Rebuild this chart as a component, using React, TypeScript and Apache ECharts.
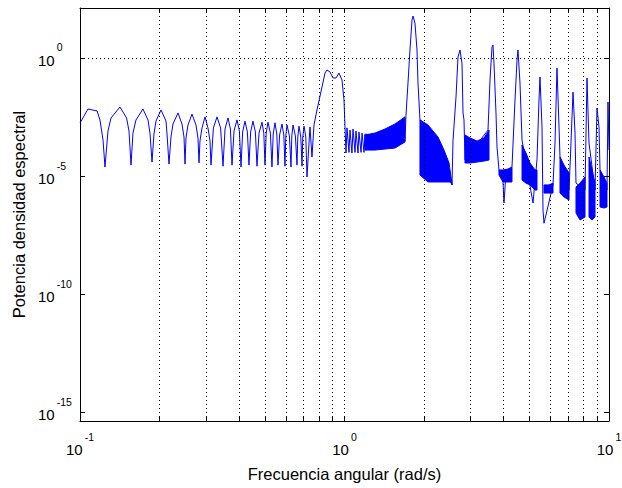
import React, { useEffect, useRef } from "react";
import * as echarts from "echarts";

const FONT = '"Liberation Sans", Arial, Helvetica, sans-serif';

// Main trace, [angular frequency (rad/s), spectral power density]
const lobeSegment: [number, number][] = [
  [0.1, 0.00176], [0.1072, 0.0069], [0.116, 0.0057], [0.119, 0.00236], [0.1222, 3.35e-4],
  [0.1243, 2.4e-5], [0.1276, 8.07e-4], [0.131, 0.00287], [0.1416, 0.0084], [0.15, 0.00287], [0.1532, 8.07e-4],
  [0.1559, 2.9e-5], [0.1586, 6.6e-4], [0.1628, 0.00236], [0.173, 0.0069], [0.1808, 0.00236], [0.1839, 6.6e-4],
  [0.1872, 3.9e-5], [0.1904, 6.0e-4], [0.1938, 0.00214], [0.2024, 0.0063], [0.2114, 0.00214], [0.2133, 6.0e-4],
  [0.217, 3.2e-5], [0.2208, 4.5e-4], [0.2247, 0.0016], [0.2347, 0.0047], [0.243, 0.0016], [0.2473, 4.5e-4],
  [0.2495, 3.2e-5], [0.2516, 4.07e-4], [0.256, 0.00145], [0.2651, 0.0042], [0.2745, 0.00145], [0.2793, 4.07e-4],
  [0.2818, 3.6e-5], [0.2842, 3.04e-4], [0.2892, 0.00108], [0.297, 0.0032], [0.3047, 0.00108], [0.3101, 3.04e-4],
  [0.3128, 2.9e-5], [0.3194, 0.00108], [0.3296, 0.0032], [0.3401, 0.00108],
  [0.3473, 2.6e-5], [0.3534, 9.8e-4], [0.3627, 0.0029], [0.3704, 9.8e-4],
  [0.3756, 2.9e-5], [0.3822, 8.1e-4], [0.3923, 0.0024], [0.4005, 8.1e-4],
  [0.4062, 2.4e-5], [0.4119, 7.3e-4], [0.4205, 0.0021], [0.4294, 7.3e-4],
  [0.4354, 2.9e-5], [0.4416, 7.3e-4], [0.4508, 0.0021], [0.4604, 7.3e-4],
  [0.4668, 2.6e-5], [0.4751, 6.6e-4], [0.4876, 0.0019], [0.4954, 6.6e-4],
  [0.5005, 2.9e-5], [0.5058, 6.6e-4], [0.5137, 0.0019], [0.5246, 6.6e-4],
  [0.5319, 2.4e-5], [0.5376, 6.0e-4], [0.546, 0.0018], [0.5547, 6.0e-4],
  [0.5605, 2.9e-5], [0.5684, 5.5e-4], [0.5803, 0.0016], [0.5896, 5.5e-4],
  [0.5957, 2.6e-5], [0.5999, 5.0e-4], [0.6062, 0.00145], [0.619, 5.0e-4],
  [0.6277, 2.4e-5], [0.6321, 5.0e-4], [0.6388, 0.00145], [0.6522, 5.0e-4],
  [0.6614, 2.9e-5], [0.666, 4.5e-4], [0.673, 0.0013], [0.6836, 4.5e-4],
  [0.6908, 2.6e-5], [0.6956, 4.5e-4], [0.703, 0.0013], [0.714, 4.5e-4],
  [0.7214, 9.1e-6],
];
const humpSegment: [number, number][] = [
  [0.7404, 0.0012], [0.7534, 6.4e-5], [0.7668, 0.00145], [0.787, 0.0063], [0.8221, 0.059],
  [0.8439, 0.23], [0.8587, 0.31], [0.8814, 0.255], [0.9047, 0.142], [0.9287, 0.142],
  [0.9532, 0.23], [0.9784, 0.117], [0.9957, 0.0166], [1.0044, 0.0012],
  [1.013, 9.4e-5], [1.022, 0.0011], [1.04, 1.0e-4], [1.049, 8.9e-4], [1.067, 9.4e-5],
  [1.077, 9.8e-4], [1.096, 1.0e-4], [1.105, 8.1e-4], [1.125, 9.4e-5], [1.134, 7.3e-4],
  [1.155, 1.0e-4], [1.165, 6.6e-4], [1.185, 1.0e-4], [1.195, 6.0e-4], [1.693, 3.0e-4],
];
const mainPeakSegment: [number, number][] = [
  [1.708, 0.0038], [1.738, 0.087], [1.768, 2.18], [1.8, 40.7], [1.816, 60], [1.847, 30],
  [1.88, 2.18], [1.896, 0.087], [1.929, 0.0024],
];
const upperPeaksSegment: [number, number][] = [
  [2.549, 4.2e-6], [2.572, 3.3e-4], [2.64, 0.022], [2.686, 1.1], [2.733, 2.18], [2.781, 0.61],
  [2.806, 0.0047], [2.83, 0.0024], [2.855, 4.8e-5],
  [3.488, 8.9e-4], [3.549, 0.117], [3.612, 2.92], [3.642, 3.56], [3.674, 0.61], [3.739, 0.0047],
  [3.772, 1.7e-4], [3.838, 1.8e-5], [3.974, 5.6e-6], [4.009, 7.2e-7], [4.08, 1.48e-5], [4.298, 2.4e-5],
  [4.412, 0.0166], [4.49, 0.82], [4.529, 2.18], [4.608, 0.087], [4.69, 3.3e-4],
  [5.161, 7.2e-7], [5.343, 4.8e-5], [5.437, 0.0166], [5.484, 0.157], [5.581, 0.0012], [5.63, 3.6e-7],
  [5.679, 1.0e-7],
  [6.142, 4.2e-6], [6.25, 2.5e-4], [6.359, 0.377], [6.472, 0.0012], [6.527, 6.4e-5],
  [7.061, 2.55e-6], [7.183, 2.5e-4], [7.31, 0.036], [7.439, 6.6e-4], [7.503, 5.0e-6],
  [8.115, 2.55e-6], [8.257, 0.142], [8.403, 2.5e-4],
  [8.853, 2.55e-6], [9.008, 0.0076], [9.167, 0.0012], [9.248, 1.8e-5],
  [9.827, 2.55e-6], [9.913, 0.0137], [10, 1.26e-4],
];

// Dense oscillation regions (envelopes: lower / upper)
const bandAFreq = [1.195, 1.304, 1.422, 1.552, 1.693];
const bandALow = [1.26e-4, 1.26e-4, 1.39e-4, 1.53e-4, 2.76e-4];
const bandAHigh = [5.5e-4, 6.6e-4, 9.8e-4, 0.0016, 0.0032];

const bandBFreq = [1.929, 2.069, 2.257, 2.378, 2.484, 2.527, 2.549];
const bandBLow = [1.1e-5, 5.6e-6, 5.6e-6, 5.6e-6, 5.6e-6, 5.6e-6, 4.2e-6];
const bandBHigh = [0.0024, 0.00145, 4.5e-4, 1.26e-4, 3.56e-5, 9.1e-6, 5.6e-6];

const bandCFreq = [2.855, 2.982, 3.17, 3.369, 3.518];
const bandCLow = [3.56e-5, 3.56e-5, 3.9e-5, 4.32e-5, 4.76e-5];
const bandCHigh = [5.5e-4, 4.1e-4, 3.04e-4, 4.1e-4, 8.9e-4];

const bandDFreq = [3.838, 3.974, 4.151, 4.298];
const bandDLow = [1.1e-5, 5.6e-6, 5.6e-6, 5.6e-6];
const bandDHigh = [1.8e-5, 1.8e-5, 1.98e-5, 2.4e-5];

const bandEFreq = [4.69, 4.855, 5.027, 5.251, 5.343];
const bandELow = [6.8e-6, 5.0e-6, 4.2e-6, 2.55e-6, 2.55e-6];
const bandEHigh = [2.06e-4, 9.4e-5, 3.56e-5, 1.8e-5, 1.8e-5];

const bandFFreq = [5.679, 5.932, 6.142];
const bandFLow = [1.9e-6, 1.9e-6, 1.9e-6];
const bandFHigh = [4.2e-6, 4.2e-6, 5.0e-6];

const bandGFreq = [6.527, 6.76, 7.061];
const bandGLow = [1.9e-6, 1.29e-6, 9.6e-7];
const bandGHigh = [6.4e-5, 2.9e-5, 1.34e-5];

const bandHFreq = [7.503, 7.77, 8.115];
const bandHLow = [2.7e-7, 1.37e-7, 1.83e-7];
const bandHHigh = [3.4e-6, 5.0e-6, 9.1e-6];

const bandIFreq = [8.403, 8.624, 8.853];
const bandILow = [1.83e-7, 1.37e-7, 1.83e-7];
const bandIHigh = [6.4e-5, 1.8e-5, 5.0e-6];

const bandJFreq = [9.248, 9.574, 9.827];
const bandJLow = [4.9e-7, 4.4e-7, 4.9e-7];
const bandJHigh = [1.8e-5, 9.1e-6, 5.0e-6];

// Axes
const xMin = 0.1;
const xMax = 10;
const yMin = 4.2e-16;
const yMax = 131;
const xMajorTicks = [0.1, 1, 10];
const xAllTicks = [0.1, 0.2, 0.3, 0.4, 0.5, 0.6, 0.7, 0.8, 0.9, 1, 2, 3, 4, 5, 6, 7, 8, 9, 10];
const xGridValues = [0.2, 0.3, 0.4, 0.5, 0.6, 0.7, 0.8, 0.9, 1, 2, 3, 4, 5, 6, 7, 8, 9];
const yMajorTicks = [1e-15, 1e-10, 1e-5, 1];

const bands = [
  { freq: bandAFreq, low: bandALow, high: bandAHigh },
  { freq: bandBFreq, low: bandBLow, high: bandBHigh },
  { freq: bandCFreq, low: bandCLow, high: bandCHigh },
  { freq: bandDFreq, low: bandDLow, high: bandDHigh },
  { freq: bandEFreq, low: bandELow, high: bandEHigh },
  { freq: bandFFreq, low: bandFLow, high: bandFHigh },
  { freq: bandGFreq, low: bandGLow, high: bandGHigh },
  { freq: bandHFreq, low: bandHLow, high: bandHHigh },
  { freq: bandIFreq, low: bandILow, high: bandIHigh },
  { freq: bandJFreq, low: bandJLow, high: bandJHigh },
];

const BLUE = "#0000ff";

const powLabel = (v: number) => {
  const e = Math.round(Math.log10(v));
  return `{b|10}{s|${e}}`;
};

const rich = {
  b: { fontFamily: FONT, fontSize: 15, lineHeight: 16, color: "#000", padding: [11, 0, 0, 0] },
  s: { fontFamily: FONT, fontSize: 10.5, lineHeight: 12, color: "#000", padding: [0, 0, 15, 2] },
};

const axisLineStyle = { show: true, onZero: false, lineStyle: { color: "#000", width: 1 } };

export default function App() {
  const ref = useRef<HTMLDivElement>(null);
  useEffect(() => {
    if (!ref.current) return;
    const chart = echarts.init(ref.current, null, { renderer: "svg" });
    const lineData = [...lobeSegment, ...humpSegment, ...mainPeakSegment, ...upperPeaksSegment];
    const option: any = {
      animation: false,
      backgroundColor: "#fff",
      grid: { left: 80, top: 8, right: 13, bottom: 67, outerBoundsMode: "none", containLabel: false },
      xAxis: [
        {
          type: "log",
          logBase: 10,
          min: xMin,
          max: xMax,
          position: "bottom",
          name: "Frecuencia angular (rad/s)",
          nameLocation: "middle",
          nameGap: 44,
          nameTextStyle: { fontFamily: FONT, fontSize: 16.5, color: "#000" },
          axisLine: axisLineStyle,
          axisTick: { show: true, inside: true, length: 4, customValues: xAllTicks, lineStyle: { color: "#000" } },
          axisLabel: { show: true, margin: 15, formatter: powLabel, rich, customValues: xMajorTicks },
          splitLine: { show: false },
        },
        {
          type: "log",
          logBase: 10,
          min: xMin,
          max: xMax,
          position: "top",
          axisLine: axisLineStyle,
          axisTick: { show: true, inside: true, length: 4, customValues: xAllTicks, lineStyle: { color: "#000" } },
          axisLabel: { show: false },
          splitLine: { show: false },
        },
      ],
      yAxis: [
        {
          type: "log",
          logBase: 10,
          min: yMin,
          max: yMax,
          position: "left",
          name: "Potencia densidad espectral",
          nameLocation: "middle",
          nameGap: 48,
          nameTextStyle: { fontFamily: FONT, fontSize: 16.5, color: "#000" },
          axisLine: axisLineStyle,
          axisTick: { show: true, inside: true, length: 5, customValues: yMajorTicks, lineStyle: { color: "#000" } },
          axisLabel: {
            show: true,
            align: "left",
            margin: 42,
            padding: [0, 0, 6, 0],
            formatter: powLabel,
            rich,
            customValues: yMajorTicks,
          },
          splitLine: { show: false },
        },
        {
          type: "log",
          logBase: 10,
          min: yMin,
          max: yMax,
          position: "right",
          axisLine: axisLineStyle,
          axisTick: { show: true, inside: true, length: 5, customValues: yMajorTicks, lineStyle: { color: "#000" } },
          axisLabel: { show: false },
          splitLine: { show: false },
        },
      ],
      series: [
        {
          type: "line",
          name: "grid",
          data: [],
          z: 1,
          silent: true,
          markLine: {
            silent: true,
            symbol: "none",
            animation: false,
            label: { show: false },
            lineStyle: { color: "#000", width: 1, type: [1, 3] },
            emphasis: { disabled: true },
            data: [
              ...xGridValues.map((v) => ({ xAxis: v })),
              ...yMajorTicks.map((v) => ({ yAxis: v })),
            ],
          },
        },
        {
          type: "custom",
          name: "bands",
          z: 2,
          clip: true,
          silent: true,
          encode: { x: 0, y: 1 },
          data: bands.map((b) => [b.freq[0], b.high[0]]),
          renderItem: (params: any, api: any) => {
            const b = bands[params.dataIndex];
            const pts: number[][] = [];
            for (let i = 0; i < b.freq.length; i++) pts.push(api.coord([b.freq[i], b.low[i]]));
            for (let i = b.freq.length - 1; i >= 0; i--) pts.push(api.coord([b.freq[i], b.high[i]]));
            return {
              type: "polygon",
              shape: { points: pts },
              style: { fill: BLUE, stroke: BLUE, lineWidth: 1 },
            };
          },
        },
        {
          type: "line",
          name: "psd",
          z: 3,
          data: lineData,
          symbol: "none",
          showSymbol: false,
          clip: true,
          silent: true,
          lineStyle: { color: BLUE, width: 1 },
        },
      ],
    };
    chart.setOption(option);
    return () => chart.dispose();
  }, []);
  return (
    <div
      ref={ref}
      style={{ position: "absolute", left: 0, top: 0, width: 622, height: 488, background: "#fff" }}
    />
  );
}
